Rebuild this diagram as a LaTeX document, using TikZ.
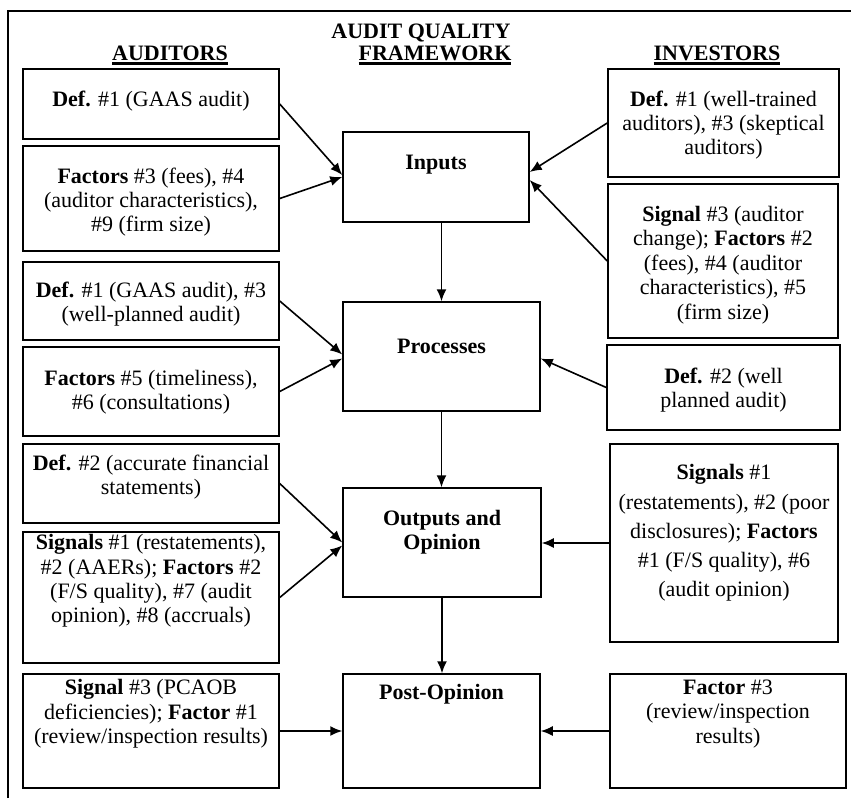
\documentclass[tikz,border=0pt]{standalone}
\usepackage{fontspec}
\setmainfont{Liberation Serif}
\usetikzlibrary{arrows.meta,calc}
\newcommand{\headul}[1]{\vtop{\hbox{#1}\kern1pt\hrule height 1.3pt}}
\begin{document}
\begin{tikzpicture}
[x=0.5pt, y=-0.5pt, line width=0.75pt, >={Latex[length=6pt,width=5pt]},
abox/.style={rectangle, draw, line width=0.75pt, inner sep=0pt},
atext/.style={align=center, inner sep=0pt, font=\fontsize{11}{12.2}\selectfont},
ahead/.style={anchor=base, inner sep=0pt, font=\fontsize{11}{12}\selectfont\bfseries},
conn/.style={->, line width=0.8pt}]

\useasboundingbox (0,0) rectangle (851,798);
\draw[line width=1pt] (8,798) -- (8,10.5) -- (851,10.5);

\node[ahead] (title1) at (421,38) {AUDIT QUALITY};
\node[ahead] (title2) at (435,60) {\headul{FRAMEWORK}};
\node[ahead] (audhead) at (170,60) {\headul{AUDITORS}};
\node[ahead] (invhead) at (717,60) {\headul{INVESTORS}};

% auditors
\node[abox, minimum width=128pt, minimum height=35pt] (aud1) at (151,104) {};
\node[abox, minimum width=128pt, minimum height=52.5pt] (aud2) at (151,198.5) {};
\node[abox, minimum width=128pt, minimum height=39pt] (aud3) at (151,301) {};
\node[abox, minimum width=128pt, minimum height=44.5pt] (aud4) at (151,391.5) {};
\node[abox, minimum width=128pt, minimum height=39.5pt] (aud5) at (151,483.5) {};
\node[abox, minimum width=128pt, minimum height=65.5pt] (aud6) at (151,597.5) {};
\node[abox, minimum width=128pt, minimum height=57pt] (aud7) at (151,731) {};

\node[atext] (aud1txt) at (151,101) {\textbf{Def.} \#1 (GAAS audit)};
\node[atext] (aud2txt) at (151,202) {\textbf{Factors} \#3 (fees), \#4\\(auditor characteristics),\\\#9 (firm size)};
\node[atext] (aud3txt) at (151,304) {\textbf{Def.} \#1 (GAAS audit), \#3\\(well-planned audit)};
\node[atext] (aud4txt) at (151,392) {\textbf{Factors} \#5 (timeliness),\\\#6 (consultations)};
\node[atext] (aud5txt) at (151,477) {\textbf{Def.} \#2 (accurate financial\\statements)};
\node[atext] (aud6txt) at (151,581) {\textbf{Signals} \#1 (restatements),\\\#2 (AAERs); \textbf{Factors} \#2\\(F/S quality), \#7 (audit\\opinion), \#8 (accruals)};
\node[atext] (aud7txt) at (151,714) {\textbf{Signal} \#3 (PCAOB\\deficiencies); \textbf{Factor} \#1\\(review/inspection results)};

% stages
\node[abox, minimum width=93pt, minimum height=45pt] (stage1) at (436,177) {};
\node[abox, minimum width=98.5pt, minimum height=54.5pt] (stage2) at (441.5,356.5) {};
\node[abox, minimum width=99pt, minimum height=54.5pt] (stage3) at (442,542.5) {};
\node[abox, minimum width=98.5pt, minimum height=57pt] (stage4) at (441.5,731) {};

\node[atext] (stage1txt) at (436,165) {\textbf{Inputs}};
\node[atext] (stage2txt) at (441.5,346) {\textbf{Processes}};
\node[atext] (stage3txt) at (442,532) {\textbf{Outputs and}\\\textbf{Opinion}};
\node[atext] (stage4txt) at (441.5,694) {\textbf{Post-Opinion}};

% investors
\node[abox, minimum width=115.5pt, minimum height=54pt] (inv1) at (723.5,123) {};
\node[abox, minimum width=115pt, minimum height=77pt] (inv2) at (723,261) {};
\node[abox, minimum width=116.5pt, minimum height=42.5pt] (inv3) at (723.5,387.5) {};
\node[abox, minimum width=114pt, minimum height=99pt] (inv4) at (724,543) {};
\node[abox, minimum width=118pt, minimum height=57pt] (inv5) at (728,731) {};

\node[atext] (inv1txt) at (723.5,125) {\textbf{Def.} \#1 (well-trained\\auditors), \#3 (skeptical\\auditors)};
\node[atext] (inv2txt) at (723,265) {\textbf{Signal} \#3 (auditor\\change); \textbf{Factors} \#2\\(fees), \#4 (auditor\\characteristics), \#5\\(firm size)};
\node[atext] (inv3txt) at (723.5,390) {\textbf{Def.} \#2 (well\\planned audit)};
\node[atext, font=\fontsize{11}{14.6}\selectfont] (inv4txt) at (724,533) {\textbf{Signals} \#1\\(restatements), \#2 (poor\\disclosures); \textbf{Factors}\\\#1 (F/S quality), \#6\\(audit opinion)};
\node[atext] (inv5txt) at (728,714) {\textbf{Factor} \#3\\(review/inspection\\results)};

\draw[conn] (aud1.east) -- ($(stage1.west)+(0,-2)$);
\draw[conn] (aud2.east) -- (stage1.west);
\draw[conn] (inv1.west) -- ($(stage1.east)+(0,-5)$);
\draw[conn] (inv2.west) -- ($(stage1.east)+(0,3)$);
\draw[conn] (stage2.north |- stage1.south) -- (stage2.north);

\draw[conn] (aud3.east) -- ($(stage2.west)+(0,-2)$);
\draw[conn] (aud4.east) -- ($(stage2.west)+(0,2)$);
\draw[conn] (inv3.west) -- ($(stage2.east)+(0,2)$);
\draw[conn] (stage2.south) -- (stage2.south |- stage3.north);

\draw[conn] (aud5.east) -- (stage3.west);
\draw[conn] (aud6.east) -- ($(stage3.west)+(0,3)$);
\draw[conn] (inv4.west) -- (inv4.west -| stage3.east);
\draw[conn] (stage3.south) -- (stage3.south |- stage4.north);

\draw[conn] (aud7.east) -- (stage4.west);
\draw[conn] (inv5.west) -- (stage4.east);
\end{tikzpicture}
\end{document}
